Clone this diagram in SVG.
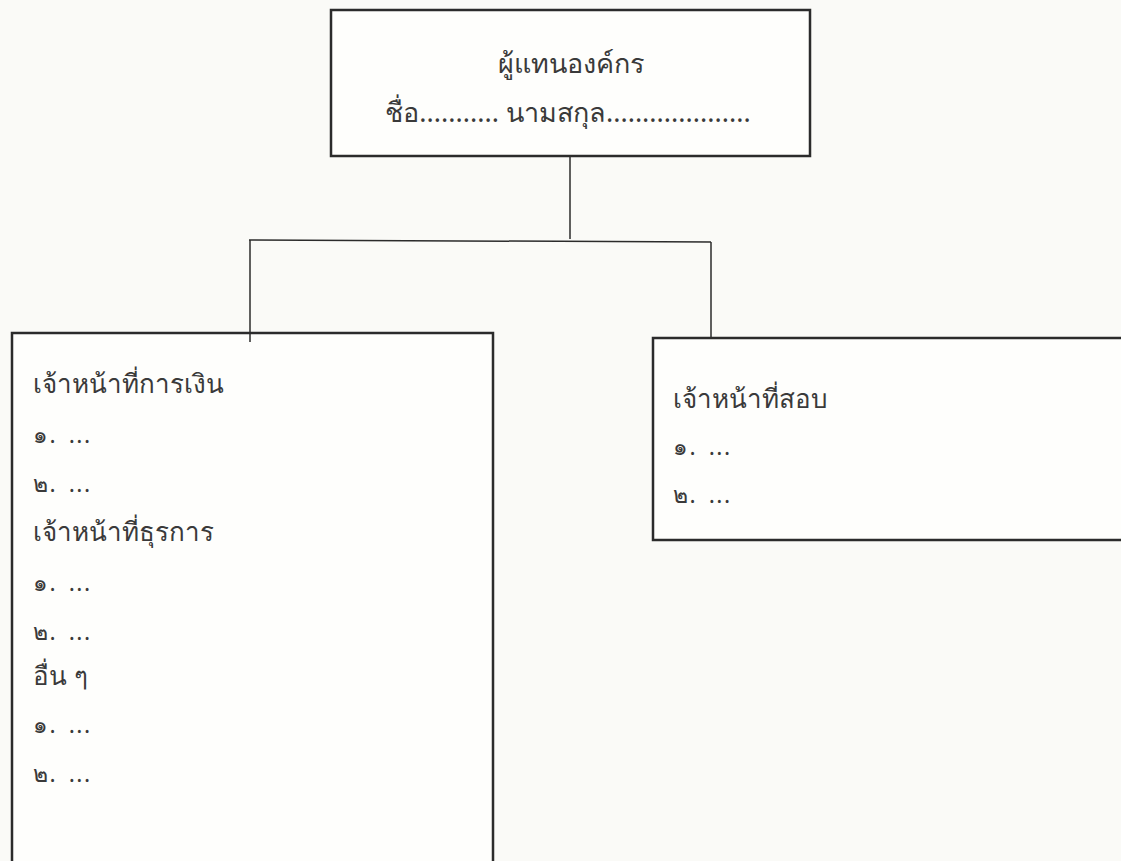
<svg xmlns="http://www.w3.org/2000/svg" width="1121" height="861" viewBox="0 0 1121 861">
<style>
.box{fill:#fefefc;stroke:#2b2b2b;stroke-width:2.5}
.con{fill:none;stroke:#2b2b2b;stroke-width:1.5}
text{font-family:"Noto Sans","DejaVu Sans",sans-serif;fill:#3a3a3a}
.t{font-size:27px}
.h{font-size:26px}
.i{font-size:23px;letter-spacing:1.5px;word-spacing:4px}
</style>
<rect width="1121" height="861" fill="#fafaf7"/>
<g id="top">
<rect class="box" x="331" y="10" width="479" height="146"/>
<text class="t" x="571" y="73" text-anchor="middle">ผู้แทนองค์กร</text>
<text class="t" x="568" y="122" text-anchor="middle">ชื่อ........... นามสกุล....................</text>
</g>
<g id="left">
<rect class="box" x="12" y="333" width="481" height="540"/>
<text class="h" x="33" y="393">เจ้าหน้าที่การเงิน</text>
<text class="i" x="33" y="443">๑. ...</text>
<text class="i" x="33" y="492">๒. ...</text>
<text class="h" x="33" y="541">เจ้าหน้าที่ธุรการ</text>
<text class="i" x="33" y="591">๑. ...</text>
<text class="i" x="33" y="640">๒. ...</text>
<text class="h" x="33" y="685">อื่น ๆ</text>
<text class="i" x="33" y="733">๑. ...</text>
<text class="i" x="33" y="782">๒. ...</text>
</g>
<g id="right">
<rect class="box" x="653" y="338" width="480" height="202"/>
<text class="h" x="673" y="408">เจ้าหน้าที่สอบ</text>
<text class="i" x="673" y="455">๑. ...</text>
<text class="i" x="673" y="503">๒. ...</text>
</g>
<g id="connectors">
<path class="con" d="M570,157 V239"/>
<path class="con" d="M249,240 L711,242"/>
<path class="con" d="M250,240 V342"/>
<path class="con" d="M711,242 V337"/>
</g>
</svg>
